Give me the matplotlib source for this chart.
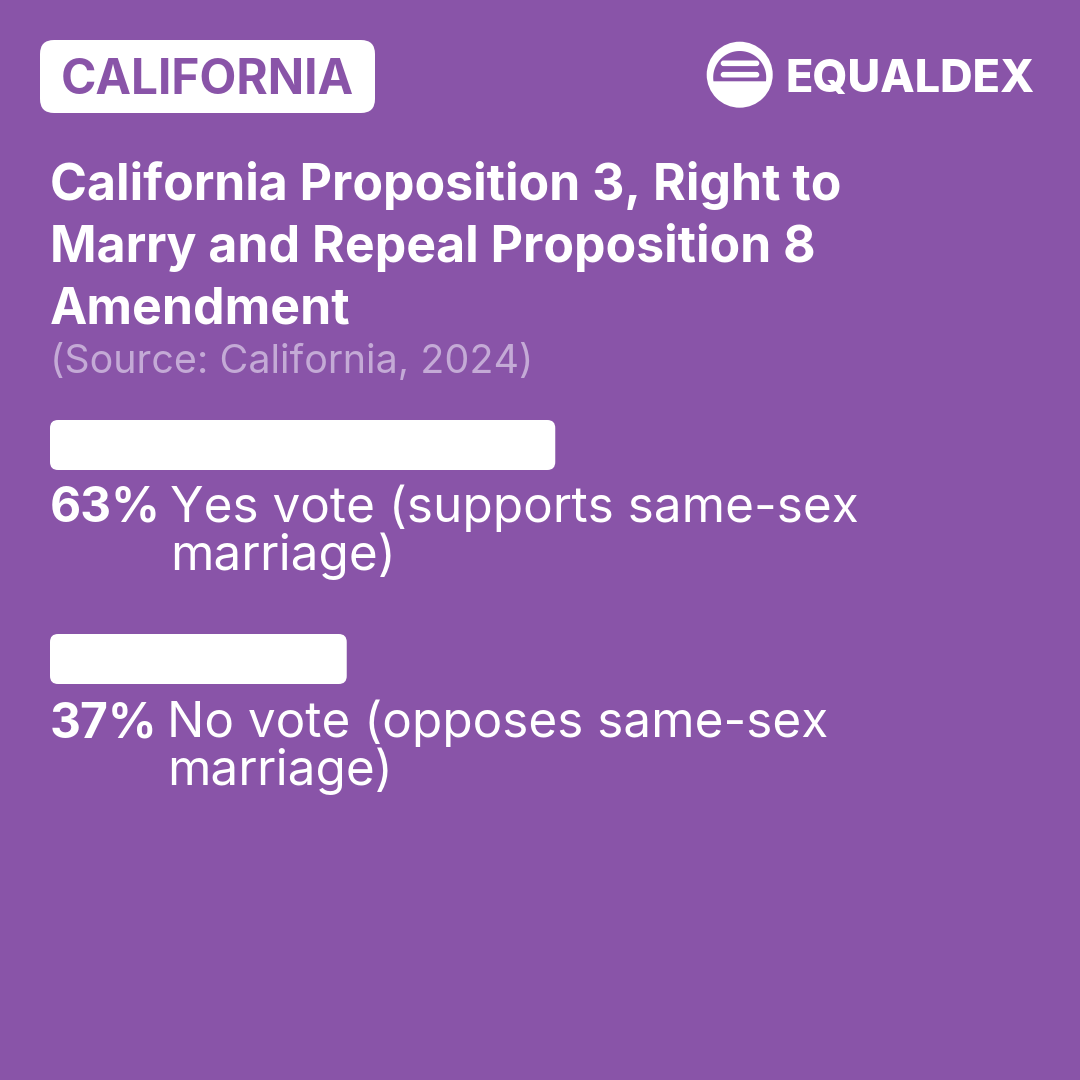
import matplotlib
matplotlib.use("Agg")
import matplotlib.pyplot as plt
from matplotlib.patches import FancyBboxPatch, Circle, Polygon
import numpy as np

# ---- data ----
region = "CALIFORNIA"
brand = "EQUALDEX"
title_lines = ["California Proposition 3, Right to",
               "Marry and Repeal Proposition 8",
               "Amendment"]
source = "(Source: California, 2024)"
values = [63, 37]
pct_labels = ["63%", "37%"]
desc_lines = [["Yes vote (supports same-sex", "marriage)"],
              ["No vote (opposes same-sex", "marriage)"]]

BG = "#8954A8"
WHITE = "#FFFFFF"
SRC = "#C4AAD6"
FONT = ["Inter", "DejaVu Sans"]

W = H = 1080
DPI = 100
fig = plt.figure(figsize=(W / DPI, H / DPI), dpi=DPI, facecolor=BG)
ax = fig.add_axes([0, 0, 1, 1])
ax.set_xlim(0, W)
ax.set_ylim(H, 0)
ax.axis("off")
ax.set_facecolor(BG)

def px(p):
    return p * 72 / DPI

# badge
ax.add_patch(FancyBboxPatch((40, 40), 335, 73, boxstyle="round,pad=0,rounding_size=14",
                            fc=WHITE, ec="none"))
ax.text(61, 94, region, fontsize=px(47.8), fontweight="bold", color=BG,
        family=FONT, va="baseline", ha="left")

# logo
cx, cy, r = 739.7, 74.7, 33
ax.add_patch(Circle((cx, cy), r, fc=WHITE, ec="none"))
ic_y, ir, ybot = 77.5, 26.5, 81.3
dy = ybot - ic_y
a0 = np.arcsin(dy / ir)
ang = np.linspace(np.pi - a0, 2 * np.pi + a0, 80)
pts = np.column_stack([cx + ir * np.cos(ang), ic_y + ir * np.sin(ang)])
ax.add_patch(Polygon(pts, closed=True, fc=BG, ec="none"))
for yc in (63.3, 74.7):
    ax.add_patch(FancyBboxPatch((720.7, yc - 2.8), 38.6, 5.6,
                                boxstyle="round,pad=0,rounding_size=2.8",
                                fc=WHITE, ec="none"))
ax.text(785, 92, brand, fontsize=px(45), fontweight="heavy", color=WHITE,
        family=FONT, va="baseline", ha="left")

# title
for i, line in enumerate(title_lines):
    ax.text(50, 200 + 62 * i, line, fontsize=px(50), fontweight="bold",
            color=WHITE, family=FONT, va="baseline", ha="left")
ax.text(50, 373, source, fontsize=px(39.5), color=SRC, family=FONT,
        va="baseline", ha="left")

# bars axes (percent scale)
BAR_L, BAR_W = 50, 802
bax = fig.add_axes([BAR_L / W, 0, BAR_W / W, 1])
bax.set_xlim(0, 100)
bax.set_ylim(H, 0)
bax.axis("off")
bar_tops = [420, 634]
bar_h = 50
xu = BAR_W / 100.0  # px per percent
rad_px = 8
for v, top in zip(values, bar_tops):
    bax.add_patch(FancyBboxPatch((0, top), v, bar_h,
                                 boxstyle="round,pad=0,rounding_size=%f" % (rad_px / xu),
                                 mutation_aspect=xu, fc=WHITE, ec="none"))

# labels
base1 = [522, 737]
desc_x = [170, 167]
for lab, lines, b, dx in zip(pct_labels, desc_lines, base1, desc_x):
    ax.text(50, b, lab, fontsize=px(48), fontweight="bold", color=WHITE,
            family=FONT, va="baseline", ha="left")
    for j, ln in enumerate(lines):
        ax.text(dx, b + 48 * j, ln, fontsize=px(49.5), color=WHITE,
                family=FONT, va="baseline", ha="left")

fig.savefig("out.png", dpi=DPI, facecolor=BG)
